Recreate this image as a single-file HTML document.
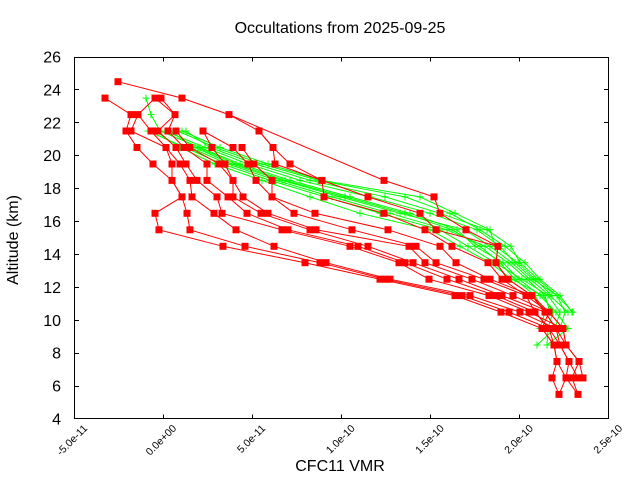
<!DOCTYPE html>
<html><head><meta charset="utf-8"><style>
html,body{margin:0;padding:0;background:#fff;}
svg{display:block;}
text{font-family:"Liberation Sans",sans-serif;fill:#000;}
</style></head><body>
<svg width="640" height="480" viewBox="0 0 640 480" xmlns="http://www.w3.org/2000/svg">
<defs>
<rect id="s" x="-3.5" y="-3.5" width="7" height="7" fill="#ff0000"/>
<path id="p" d="M-3.5,0H3.5M0,-3.5V3.5" stroke="#00ff00" stroke-width="1" fill="none"/>
</defs>
<rect width="640" height="480" fill="#fff"/>
<text x="340" y="33" font-size="16" text-anchor="middle">Occultations from 2025-09-25</text>
<text x="340" y="471" font-size="16" text-anchor="middle">CFC11 VMR</text>
<text transform="translate(18,240) rotate(-90)" font-size="16" text-anchor="middle">Altitude (km)</text>

<g font-size="16" text-anchor="end">
<text x="61" y="424.5">4</text>
<text x="61" y="391.6">6</text>
<text x="61" y="358.7">8</text>
<text x="61" y="325.8">10</text>
<text x="61" y="292.9">12</text>
<text x="61" y="260">14</text>
<text x="61" y="227">16</text>
<text x="61" y="194.1">18</text>
<text x="61" y="161.2">20</text>
<text x="61" y="128.3">22</text>
<text x="61" y="95.4">24</text>
<text x="61" y="62.5">26</text>
</g>
<g font-size="10.5" text-anchor="end">
<text transform="translate(88,429) rotate(-45)">-5.0e-11</text>
<text transform="translate(177,429) rotate(-45)">0.0e+00</text>
<text transform="translate(266,429) rotate(-45)">5.0e-11</text>
<text transform="translate(355.5,429) rotate(-45)">1.0e-10</text>
<text transform="translate(444.7,429) rotate(-45)">1.5e-10</text>
<text transform="translate(533.8,429) rotate(-45)">2.0e-10</text>
<text transform="translate(623,429) rotate(-45)">2.5e-10</text>
</g>

<g stroke="#000" stroke-width="1" fill="none">
<path d="M74.5,419V414.5M163.5,419V414.5M252.5,419V414.5M341.5,419V414.5M430.5,419V414.5M519.5,419V414.5M608.5,419V414.5
M74.5,57V61.5M163.5,57V61.5M252.5,57V61.5M341.5,57V61.5M430.5,57V61.5M519.5,57V61.5M608.5,57V61.5
M74,386.5H79M74,353.5H79M74,320.5H79M74,287.5H79M74,254.5H79M74,221.5H79M74,188.5H79M74,155.5H79M74,122.5H79M74,89.5H79
M609,386.5H604M609,353.5H604M609,320.5H604M609,287.5H604M609,254.5H604M609,221.5H604M609,188.5H604M609,155.5H604M609,122.5H604M609,89.5H604"/>
</g>

<!-- green profiles -->
<g stroke="#00ff00" stroke-width="1" fill="none">
<polyline points="146,98.1 151,114.6 160,131 200,147.5 240,164 290,180.4 350,196.9 410,213.3 457,229.8 475,246.3 503,262.7 519,279.2 540,295.6 556,312.1 568,328.5 547,345"/>
<polyline points="148,131 185,147.5 222,164 270,180.4 325,196.9 380,213.3 440,229.8 468,246.3 495,262.7 522,279.2 548,295.6 560,312.1 555,328.5 537,345"/>
<polyline points="186,131 210,147.5 255,164 310,180.4 385,196.9 440,213.3 487,229.8 511,246.3 520,262.7 538,279.2 557,295.6 573,312.1"/>
<polyline points="170,131 195,147.5 232,164 282,180.4 340,196.9 400,213.3 465,229.8 490,246.3 512,262.7 530,279.2 550,295.6 568,312.1"/>
<polyline points="165,131 205,147.5 248,164 300,180.4 370,196.9 430,213.3 477,229.8 500,246.3 515,262.7 533,279.2 557,295.6 565,312.1 560,328.5"/>
<polyline points="190,147.5 228,164 276,180.4 332,196.9 390,213.3 447,229.8 485,246.3 508,262.7 527,279.2 545,295.6 550,312.1"/>
<polyline points="178,131 215,147.5 262,164 318,180.4 405,196.9 450,213.3 480,229.8 505,246.3 525,262.7 540,279.2 560,295.6 572,312.1"/>
<polyline points="198,147.5 236,164 285,180.4 345,196.9 405,213.3 452,229.8 480,246.3 500,262.7 515,279.2 535,295.6 545,312.1 540,328.5"/>
<polyline points="182,131 220,147.5 268,164 322,180.4 420,196.9 455,213.3 490,229.8 495,246.3 518,262.7 535,279.2 552,295.6"/>
<polyline points="155,131 180,147.5 215,164 262,180.4 310,196.9 360,213.3 430,229.8 460,246.3 490,262.7 512,279.2 543,295.6 553,312.1 548,328.5 547,345"/>
</g>
<g>
<use href="#p" x="146" y="98.1"/><use href="#p" x="151" y="114.6"/><use href="#p" x="160" y="131"/><use href="#p" x="200" y="147.5"/><use href="#p" x="240" y="164"/><use href="#p" x="290" y="180.4"/><use href="#p" x="350" y="196.9"/><use href="#p" x="410" y="213.3"/><use href="#p" x="457" y="229.8"/><use href="#p" x="475" y="246.3"/><use href="#p" x="503" y="262.7"/><use href="#p" x="519" y="279.2"/><use href="#p" x="540" y="295.6"/><use href="#p" x="556" y="312.1"/><use href="#p" x="568" y="328.5"/><use href="#p" x="547" y="345"/>
<use href="#p" x="148" y="131"/><use href="#p" x="185" y="147.5"/><use href="#p" x="222" y="164"/><use href="#p" x="270" y="180.4"/><use href="#p" x="325" y="196.9"/><use href="#p" x="380" y="213.3"/><use href="#p" x="440" y="229.8"/><use href="#p" x="468" y="246.3"/><use href="#p" x="495" y="262.7"/><use href="#p" x="522" y="279.2"/><use href="#p" x="548" y="295.6"/><use href="#p" x="560" y="312.1"/><use href="#p" x="555" y="328.5"/><use href="#p" x="537" y="345"/>
<use href="#p" x="186" y="131"/><use href="#p" x="210" y="147.5"/><use href="#p" x="255" y="164"/><use href="#p" x="310" y="180.4"/><use href="#p" x="385" y="196.9"/><use href="#p" x="440" y="213.3"/><use href="#p" x="487" y="229.8"/><use href="#p" x="511" y="246.3"/><use href="#p" x="520" y="262.7"/><use href="#p" x="538" y="279.2"/><use href="#p" x="557" y="295.6"/><use href="#p" x="573" y="312.1"/>
<use href="#p" x="170" y="131"/><use href="#p" x="195" y="147.5"/><use href="#p" x="232" y="164"/><use href="#p" x="282" y="180.4"/><use href="#p" x="340" y="196.9"/><use href="#p" x="400" y="213.3"/><use href="#p" x="465" y="229.8"/><use href="#p" x="490" y="246.3"/><use href="#p" x="512" y="262.7"/><use href="#p" x="530" y="279.2"/><use href="#p" x="550" y="295.6"/><use href="#p" x="568" y="312.1"/>
<use href="#p" x="165" y="131"/><use href="#p" x="205" y="147.5"/><use href="#p" x="248" y="164"/><use href="#p" x="300" y="180.4"/><use href="#p" x="370" y="196.9"/><use href="#p" x="430" y="213.3"/><use href="#p" x="477" y="229.8"/><use href="#p" x="500" y="246.3"/><use href="#p" x="515" y="262.7"/><use href="#p" x="533" y="279.2"/><use href="#p" x="565" y="312.1"/><use href="#p" x="560" y="328.5"/>
<use href="#p" x="190" y="147.5"/><use href="#p" x="228" y="164"/><use href="#p" x="276" y="180.4"/><use href="#p" x="332" y="196.9"/><use href="#p" x="390" y="213.3"/><use href="#p" x="447" y="229.8"/><use href="#p" x="485" y="246.3"/><use href="#p" x="508" y="262.7"/><use href="#p" x="527" y="279.2"/><use href="#p" x="545" y="295.6"/><use href="#p" x="550" y="312.1"/>
<use href="#p" x="178" y="131"/><use href="#p" x="215" y="147.5"/><use href="#p" x="262" y="164"/><use href="#p" x="318" y="180.4"/><use href="#p" x="405" y="196.9"/><use href="#p" x="450" y="213.3"/><use href="#p" x="480" y="229.8"/><use href="#p" x="505" y="246.3"/><use href="#p" x="525" y="262.7"/><use href="#p" x="540" y="279.2"/><use href="#p" x="560" y="295.6"/><use href="#p" x="572" y="312.1"/>
<use href="#p" x="198" y="147.5"/><use href="#p" x="236" y="164"/><use href="#p" x="285" y="180.4"/><use href="#p" x="345" y="196.9"/><use href="#p" x="405" y="213.3"/><use href="#p" x="452" y="229.8"/><use href="#p" x="480" y="246.3"/><use href="#p" x="500" y="262.7"/><use href="#p" x="515" y="279.2"/><use href="#p" x="535" y="295.6"/><use href="#p" x="545" y="312.1"/><use href="#p" x="540" y="328.5"/>
<use href="#p" x="182" y="131"/><use href="#p" x="220" y="147.5"/><use href="#p" x="268" y="164"/><use href="#p" x="322" y="180.4"/><use href="#p" x="420" y="196.9"/><use href="#p" x="455" y="213.3"/><use href="#p" x="490" y="229.8"/><use href="#p" x="495" y="246.3"/><use href="#p" x="518" y="262.7"/><use href="#p" x="535" y="279.2"/><use href="#p" x="552" y="295.6"/>
<use href="#p" x="155" y="131"/><use href="#p" x="180" y="147.5"/><use href="#p" x="215" y="164"/><use href="#p" x="262" y="180.4"/><use href="#p" x="310" y="196.9"/><use href="#p" x="360" y="213.3"/><use href="#p" x="430" y="229.8"/><use href="#p" x="460" y="246.3"/><use href="#p" x="490" y="262.7"/><use href="#p" x="512" y="279.2"/><use href="#p" x="543" y="295.6"/><use href="#p" x="553" y="312.1"/><use href="#p" x="548" y="328.5"/>
</g>

<!-- red profiles -->
<g stroke="#ff0000" stroke-width="1" fill="none">
<polyline points="105,98.1 131,114.6 126,131 137,147.5 153,164 172,180.4 182,196.9 155,213.3 159,229.8 223,246.3 305,262.7 380,279.2 455,295.6 501,312.1 542,328.5 554,345 557,361.5 552,377.9 559,394.4"/>
<polyline points="138,114.6 131,131 166,147.5 172,164 172,180.4 182,196.9 187,213.3 190,229.8 245,246.3 320,262.7 385,279.2 462,295.6 509,312.1 549,328.5 560,345 569,361.5 566,377.9 578,394.4"/>
<polyline points="155,98.1 138,114.6 151,131 166,147.5 180,164 190,180.4 192,196.9 214,213.3 236,229.8 274,246.3 326,262.7 390,279.2 470,295.6 520,312.1 556,328.5 566,345 579,361.5 572,377.9 578,394.4"/>
<polyline points="161,98.1 175,114.6 158,131 176,147.5 186,164 197,180.4 217,196.9 222,213.3 282,229.8 350,246.3 399,262.7 429,279.2 489,295.6 529,312.1 563,328.5 566,345 579,361.5 583,377.9"/>
<polyline points="155,98.1 175,114.6 168,131 184,147.5 207,164 207,180.4 228,196.9 247,213.3 288,229.8 358,246.3 405,262.7 447,279.2 496,295.6 535,312.1 549,328.5 554,345 557,361.5 566,377.9 559,394.4"/>
<polyline points="176,131 190,147.5 219,164 233,180.4 233,196.9 261,213.3 310,229.8 368,246.3 413,262.7 459,279.2 502,295.6 545,312.1 556,328.5 560,345 569,361.5 578,377.9"/>
<polyline points="203,131 212,147.5 225,164 233,180.4 243,196.9 268,213.3 316,229.8 409,246.3 425,262.7 472,279.2 513,295.6 549,312.1 563,328.5 566,345"/>
<polyline points="203,131 233,147.5 248,164 256,180.4 272,196.9 294,213.3 352,229.8 416,246.3 436,262.7 484,279.2 526,295.6 549,312.1 542,328.5 554,345"/>
<polyline points="242,147.5 254,164 272,180.4 272,196.9 315,213.3 388,229.8 440,246.3 456,262.7 490,279.2 532,295.6 545,312.1 556,328.5"/>
<polyline points="259,131 273,147.5 275,164 322,180.4 324,196.9 384,213.3 425,229.8 452,246.3 488,262.7 502,279.2 526,295.6 535,312.1 549,328.5"/>
<polyline points="118,81.7 182,98.1 229,114.6 259,131 273,147.5 290,164 322,180.4 368,196.9 420,213.3 436,229.8 498,246.3 496,262.7 508,279.2 532,295.6 549,312.1 563,328.5"/>
<polyline points="229,114.6 384,180.4 434,196.9 440,213.3 466,229.8 498,246.3 496,262.7 508,279.2 532,295.6 545,312.1"/>
</g>
<g>
<use href="#s" x="118" y="81.7"/>
<use href="#s" x="105" y="98.1"/><use href="#s" x="155" y="98.1"/><use href="#s" x="161" y="98.1"/><use href="#s" x="182" y="98.1"/>
<use href="#s" x="131" y="114.6"/><use href="#s" x="138" y="114.6"/><use href="#s" x="175" y="114.6"/><use href="#s" x="229" y="114.6"/>
<use href="#s" x="126" y="131"/><use href="#s" x="131" y="131"/><use href="#s" x="151" y="131"/><use href="#s" x="158" y="131"/><use href="#s" x="168" y="131"/><use href="#s" x="176" y="131"/><use href="#s" x="203" y="131"/><use href="#s" x="259" y="131"/>
<use href="#s" x="137" y="147.5"/><use href="#s" x="166" y="147.5"/><use href="#s" x="176" y="147.5"/><use href="#s" x="184" y="147.5"/><use href="#s" x="190" y="147.5"/><use href="#s" x="212" y="147.5"/><use href="#s" x="233" y="147.5"/><use href="#s" x="242" y="147.5"/><use href="#s" x="273" y="147.5"/>
<use href="#s" x="153" y="164"/><use href="#s" x="172" y="164"/><use href="#s" x="180" y="164"/><use href="#s" x="186" y="164"/><use href="#s" x="207" y="164"/><use href="#s" x="219" y="164"/><use href="#s" x="225" y="164"/><use href="#s" x="248" y="164"/><use href="#s" x="254" y="164"/><use href="#s" x="275" y="164"/><use href="#s" x="290" y="164"/>
<use href="#s" x="172" y="180.4"/><use href="#s" x="190" y="180.4"/><use href="#s" x="197" y="180.4"/><use href="#s" x="207" y="180.4"/><use href="#s" x="233" y="180.4"/><use href="#s" x="256" y="180.4"/><use href="#s" x="272" y="180.4"/><use href="#s" x="322" y="180.4"/><use href="#s" x="384" y="180.4"/>
<use href="#s" x="182" y="196.9"/><use href="#s" x="192" y="196.9"/><use href="#s" x="217" y="196.9"/><use href="#s" x="228" y="196.9"/><use href="#s" x="233" y="196.9"/><use href="#s" x="243" y="196.9"/><use href="#s" x="272" y="196.9"/><use href="#s" x="324" y="196.9"/><use href="#s" x="368" y="196.9"/><use href="#s" x="434" y="196.9"/>
<use href="#s" x="155" y="213.3"/><use href="#s" x="187" y="213.3"/><use href="#s" x="214" y="213.3"/><use href="#s" x="222" y="213.3"/><use href="#s" x="247" y="213.3"/><use href="#s" x="261" y="213.3"/><use href="#s" x="268" y="213.3"/><use href="#s" x="294" y="213.3"/><use href="#s" x="315" y="213.3"/><use href="#s" x="384" y="213.3"/><use href="#s" x="420" y="213.3"/><use href="#s" x="440" y="213.3"/>
<use href="#s" x="159" y="229.8"/><use href="#s" x="190" y="229.8"/><use href="#s" x="236" y="229.8"/><use href="#s" x="282" y="229.8"/><use href="#s" x="288" y="229.8"/><use href="#s" x="310" y="229.8"/><use href="#s" x="316" y="229.8"/><use href="#s" x="352" y="229.8"/><use href="#s" x="388" y="229.8"/><use href="#s" x="425" y="229.8"/><use href="#s" x="436" y="229.8"/><use href="#s" x="466" y="229.8"/>
<use href="#s" x="223" y="246.3"/><use href="#s" x="245" y="246.3"/><use href="#s" x="274" y="246.3"/><use href="#s" x="350" y="246.3"/><use href="#s" x="358" y="246.3"/><use href="#s" x="368" y="246.3"/><use href="#s" x="409" y="246.3"/><use href="#s" x="416" y="246.3"/><use href="#s" x="440" y="246.3"/><use href="#s" x="452" y="246.3"/><use href="#s" x="498" y="246.3"/>
<use href="#s" x="305" y="262.7"/><use href="#s" x="320" y="262.7"/><use href="#s" x="326" y="262.7"/><use href="#s" x="399" y="262.7"/><use href="#s" x="405" y="262.7"/><use href="#s" x="413" y="262.7"/><use href="#s" x="425" y="262.7"/><use href="#s" x="436" y="262.7"/><use href="#s" x="456" y="262.7"/><use href="#s" x="488" y="262.7"/><use href="#s" x="496" y="262.7"/>
<use href="#s" x="380" y="279.2"/><use href="#s" x="385" y="279.2"/><use href="#s" x="390" y="279.2"/><use href="#s" x="429" y="279.2"/><use href="#s" x="447" y="279.2"/><use href="#s" x="459" y="279.2"/><use href="#s" x="472" y="279.2"/><use href="#s" x="484" y="279.2"/><use href="#s" x="490" y="279.2"/><use href="#s" x="502" y="279.2"/><use href="#s" x="508" y="279.2"/>
<use href="#s" x="455" y="295.6"/><use href="#s" x="462" y="295.6"/><use href="#s" x="470" y="295.6"/><use href="#s" x="489" y="295.6"/><use href="#s" x="496" y="295.6"/><use href="#s" x="502" y="295.6"/><use href="#s" x="513" y="295.6"/><use href="#s" x="526" y="295.6"/><use href="#s" x="532" y="295.6"/>
<use href="#s" x="501" y="312.1"/><use href="#s" x="509" y="312.1"/><use href="#s" x="520" y="312.1"/><use href="#s" x="529" y="312.1"/><use href="#s" x="535" y="312.1"/><use href="#s" x="545" y="312.1"/><use href="#s" x="549" y="312.1"/>
<use href="#s" x="542" y="328.5"/><use href="#s" x="549" y="328.5"/><use href="#s" x="556" y="328.5"/><use href="#s" x="563" y="328.5"/>
<use href="#s" x="554" y="345"/><use href="#s" x="560" y="345"/><use href="#s" x="566" y="345"/>
<use href="#s" x="557" y="361.5"/><use href="#s" x="569" y="361.5"/><use href="#s" x="579" y="361.5"/>
<use href="#s" x="552" y="377.9"/><use href="#s" x="566" y="377.9"/><use href="#s" x="572" y="377.9"/><use href="#s" x="578" y="377.9"/><use href="#s" x="583" y="377.9"/>
<use href="#s" x="559" y="394.4"/><use href="#s" x="578" y="394.4"/>
</g>

<rect x="74.5" y="57.5" width="534" height="361" fill="none" stroke="#000" stroke-width="1"/>
</svg>
</body></html>
